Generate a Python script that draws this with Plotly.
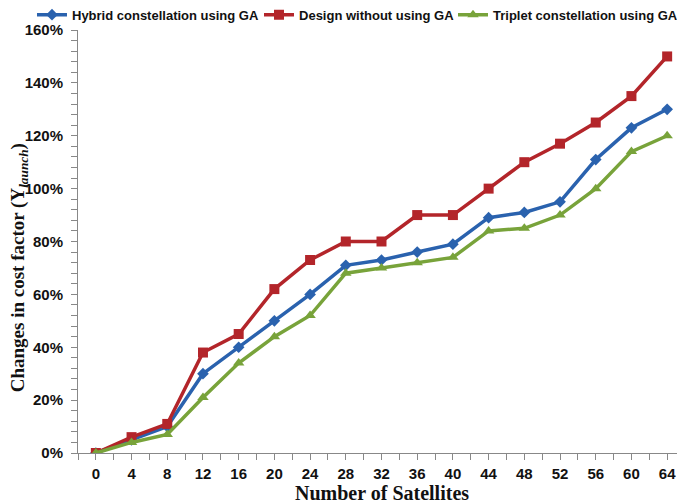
import plotly.graph_objects as go

satellites = [0, 4, 8, 12, 16, 20, 24, 28, 32, 36, 40, 44, 48, 52, 56, 60, 64]
hybrid = [0, 5, 10, 30, 40, 50, 60, 71, 73, 76, 79, 89, 91, 95, 111, 123, 130]
design = [0, 6, 11, 38, 45, 62, 73, 80, 80, 90, 90, 100, 110, 117, 125, 135, 150]
triplet = [0, 4, 7, 21, 34, 44, 52, 68, 70, 72, 74, 84, 85, 90, 100, 114, 120]

names = ["Hybrid constellation using GA", "Design without using GA", "Triplet constellation using GA"]
colors = ["#2A62AE", "#B3252A", "#78A33A"]
symbols = ["diamond", "square", "triangle-up"]
sizes = [9, 10, 10]
legend_ids = ["legend", "legend2", "legend3"]
legend_x = [-0.0758, 0.2982, 0.6178]

sans = "Liberation Sans, Arial, sans-serif"
serif = "Liberation Serif, Times New Roman, serif"
tickfont = dict(family=sans, size=15, color="#111", weight="bold")

fig = go.Figure()
for name, vals, c, s, sz, lid in zip(names, [hybrid, design, triplet], colors, symbols, sizes, legend_ids):
    fig.add_trace(go.Scatter(
        x=satellites, y=[v / 100 for v in vals], name=name, mode="lines+markers",
        line=dict(color=c, width=3.5),
        marker=dict(symbol=s, size=sz, color=c),
        legend=lid,
    ))

legend_style = dict(orientation="h", xref="paper", yref="paper", y=1.036,
                    xanchor="left", yanchor="middle",
                    font=dict(family=sans, size=13, color="#111", weight="bold"),
                    itemwidth=30, bgcolor="rgba(0,0,0,0)")

# page body has an 8px default margin, so the figure is laid out 8px up/left
fig.update_layout(
    width=685, height=503,
    margin=dict(l=70, r=8, t=22, b=58, autoexpand=False),
    paper_bgcolor="white", plot_bgcolor="white",
    showlegend=True,
    legend=dict(legend_style, x=legend_x[0]),
    legend2=dict(legend_style, x=legend_x[1]),
    legend3=dict(legend_style, x=legend_x[2]),
    xaxis=dict(
        range=[-2, 66], tickmode="array", tickvals=satellites, ticktext=[str(s) for s in satellites],
        ticks="outside", ticklen=6, tickcolor="#888", showline=True, linecolor="#888", linewidth=1,
        showgrid=False, zeroline=False, tickfont=tickfont, ticklabelstandoff=1,
        minor=dict(dtick=2, tick0=0, ticks="outside", ticklen=6, tickcolor="#888"),
    ),
    yaxis=dict(
        range=[0, 1.6], dtick=0.2, tickformat=".0%", ticks="outside", ticklen=6, tickcolor="#888",
        showline=True, linecolor="#888", linewidth=1, showgrid=False, zeroline=False,
        tickfont=tickfont, ticklabelstandoff=5,
        minor=dict(dtick=0.04, ticks="outside", ticklen=6, tickcolor="#888"),
    ),
    annotations=[
        dict(text="<b>Changes in cost factor (Y<sub><i>launch</i></sub>)</b>",
             textangle=-90, xref="paper", yref="paper", x=-0.097, y=0.437,
             xanchor="center", yanchor="middle", showarrow=False,
             font=dict(family=serif, size=19, color="#111")),
        dict(text="<b>Number of Satellites</b>",
             xref="paper", yref="paper", x=0.5, y=-0.094,
             xanchor="center", yanchor="middle", showarrow=False,
             font=dict(family=serif, size=20, color="#111")),
    ],
)
fig.write_html("out.html")
